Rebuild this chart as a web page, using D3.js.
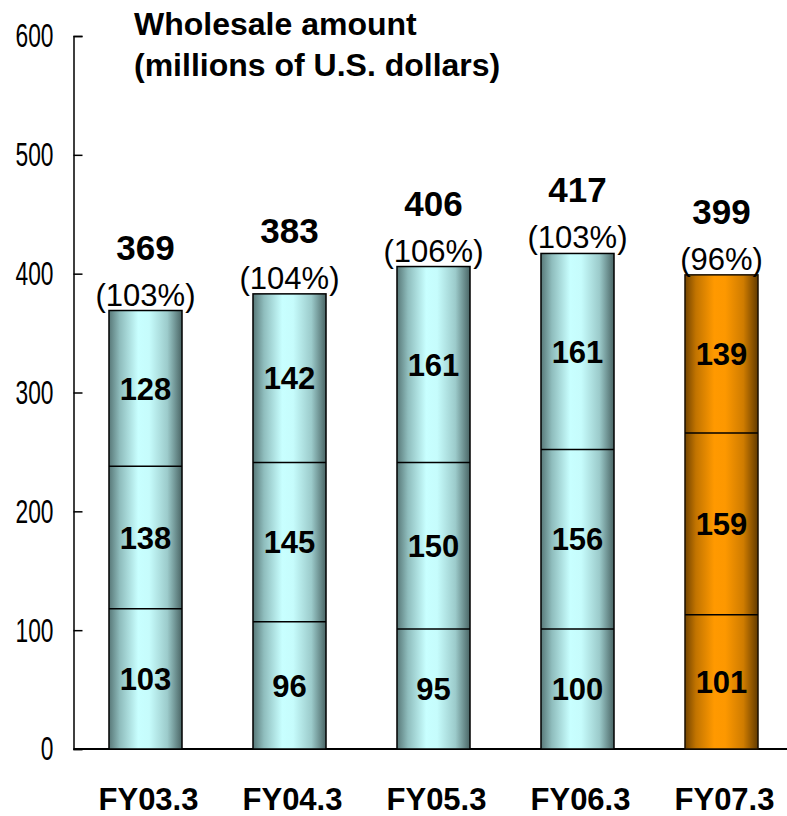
<!DOCTYPE html>
<html>
<head>
<meta charset="utf-8">
<script src="https://cdn.jsdelivr.net/npm/d3@7"></script>
<style>
  body { margin: 0; background: #fff; }
  svg text { font-family: Arial, "Liberation Sans", sans-serif; fill: #000; }
</style>
</head>
<body>
<div id="chart"></div>
<script>
// wholesale amount by fiscal year (millions of U.S. dollars)
var categories = ['FY03.3', 'FY04.3', 'FY05.3', 'FY06.3', 'FY07.3'];
var lowerValues = [103, 96, 95, 100, 101];
var middleValues = [138, 145, 150, 156, 159];
var upperValues = [128, 142, 161, 161, 139];
var totals = [369, 383, 406, 417, 399];
var growth = ['(103%)', '(104%)', '(106%)', '(103%)', '(96%)'];
// where the divider lines sit in the original picture (data units)
var lowerDivider = [118, 107, 101, 101, 113];
var upperDivider = [238, 241, 241, 252, 266];
var yTicks = [0, 100, 200, 300, 400, 500, 600];

var width = 787,
  height = 816;

var svg = d3.select('#chart').append('svg')
  .attr('width', width)
  .attr('height', height);

var defs = svg.append('defs');

function makeGradient(id, stops) {
  var g = defs.append('linearGradient')
    .attr('id', id)
    .attr('x1', '0%').attr('x2', '100%')
    .attr('y1', '0%').attr('y2', '0%');
  stops.forEach(function(s) {
    g.append('stop').attr('offset', s[0]).attr('stop-color', s[1]);
  });
}

makeGradient('teal', [
  ['0%', '#587878'], ['15%', '#8fbdbd'], ['40%', '#c8ffff'],
  ['55%', '#c6fcfc'], ['80%', '#9ccbcb'], ['100%', '#4a6565']
]);
makeGradient('orange', [
  ['0%', '#734400'], ['15%', '#c27400'], ['40%', '#ff9900'],
  ['55%', '#fd9800'], ['80%', '#cf7c00'], ['100%', '#633b00']
]);

var x = d3.scaleBand()
  .domain(categories)
  .range([73.5, 793.5])
  .paddingInner(0.493)
  .paddingOuter(0.2465);

var y = d3.scaleLinear()
  .domain([0, 600])
  .range([749, 36]);

// y axis, ticks pointing inward
var yAxis = svg.append('g')
  .attr('transform', 'translate(73.5,0)')
  .call(d3.axisLeft(y).tickValues(yTicks).tickSize(-9).tickPadding(20));

yAxis.select('.domain').attr('stroke', '#000').attr('stroke-width', 1.5);
yAxis.selectAll('.tick line').attr('stroke', '#000').attr('stroke-width', 1.5);
yAxis.selectAll('.tick text')
  .attr('font-size', 34)
  .attr('font-family', 'Arial, "Liberation Sans", sans-serif')
  .attr('x', -20 / 0.67)
  .attr('transform', 'scale(0.67,1)');

// baseline
svg.append('line')
  .attr('x1', 73.5).attr('x2', width)
  .attr('y1', y(0)).attr('y2', y(0))
  .attr('stroke', '#000')
  .attr('stroke-width', 2);

var bars = svg.selectAll('.bar-group')
  .data(categories)
  .enter()
  .append('g')
  .attr('class', 'bar-group');

bars.append('rect')
  .attr('x', function(d) { return x(d); })
  .attr('width', x.bandwidth())
  .attr('y', function(d, i) { return y(totals[i]); })
  .attr('height', function(d, i) { return y(0) - y(totals[i]); })
  .attr('fill', function(d, i) { return i === 4 ? 'url(#orange)' : 'url(#teal)'; })
  .attr('stroke', function(d, i) { return i === 4 ? '#1a0f00' : '#000'; })
  .attr('stroke-width', 1.5);

[lowerDivider, upperDivider].forEach(function(arr) {
  bars.append('line')
    .attr('x1', function(d) { return x(d); })
    .attr('x2', function(d) { return x(d) + x.bandwidth(); })
    .attr('y1', function(d, i) { return y(arr[i]); })
    .attr('y2', function(d, i) { return y(arr[i]); })
    .attr('stroke', '#000')
    .attr('stroke-width', 1.5);
});

// segment labels
function segLabel(values, from, to) {
  bars.append('text')
    .attr('x', function(d) { return x(d) + x.bandwidth() / 2; })
    .attr('y', function(d, i) { return (y(from(i)) + y(to(i))) / 2; })
    .attr('dy', '0.36em')
    .attr('text-anchor', 'middle')
    .attr('font-size', 31)
    .attr('font-weight', 'bold')
    .text(function(d, i) { return values[i]; });
}

segLabel(lowerValues, function() { return 0; }, function(i) { return lowerDivider[i]; });
segLabel(middleValues, function(i) { return lowerDivider[i]; }, function(i) { return upperDivider[i]; });
segLabel(upperValues, function(i) { return upperDivider[i]; }, function(i) { return totals[i]; });

// totals and growth above the bars
bars.append('text')
  .attr('x', function(d) { return x(d) + x.bandwidth() / 2; })
  .attr('y', function(d, i) { return y(totals[i]) - 51; })
  .attr('text-anchor', 'middle')
  .attr('font-size', 35)
  .attr('font-weight', 'bold')
  .text(function(d, i) { return totals[i]; });

bars.append('text')
  .attr('x', function(d) { return x(d) + x.bandwidth() / 2; })
  .attr('y', function(d, i) { return y(totals[i]) - 5; })
  .attr('text-anchor', 'middle')
  .attr('font-size', 31)
  .text(function(d, i) { return growth[i]; });

// category labels
svg.selectAll('.cat-label')
  .data(categories)
  .enter()
  .append('text')
  .attr('class', 'cat-label')
  .attr('x', function(d) { return x(d) + x.bandwidth() / 2 + 3; })
  .attr('y', 810)
  .attr('text-anchor', 'middle')
  .attr('font-size', 31)
  .attr('font-weight', 'bold')
  .text(function(d) { return d; });

// title
var title = svg.append('text')
  .attr('x', 134)
  .attr('font-size', 32)
  .attr('font-weight', 'bold');
title.append('tspan').attr('x', 134).attr('y', 35).text('Wholesale amount');
title.append('tspan').attr('x', 134).attr('y', 76).text('(millions of U.S. dollars)');
</script>
</body>
</html>
